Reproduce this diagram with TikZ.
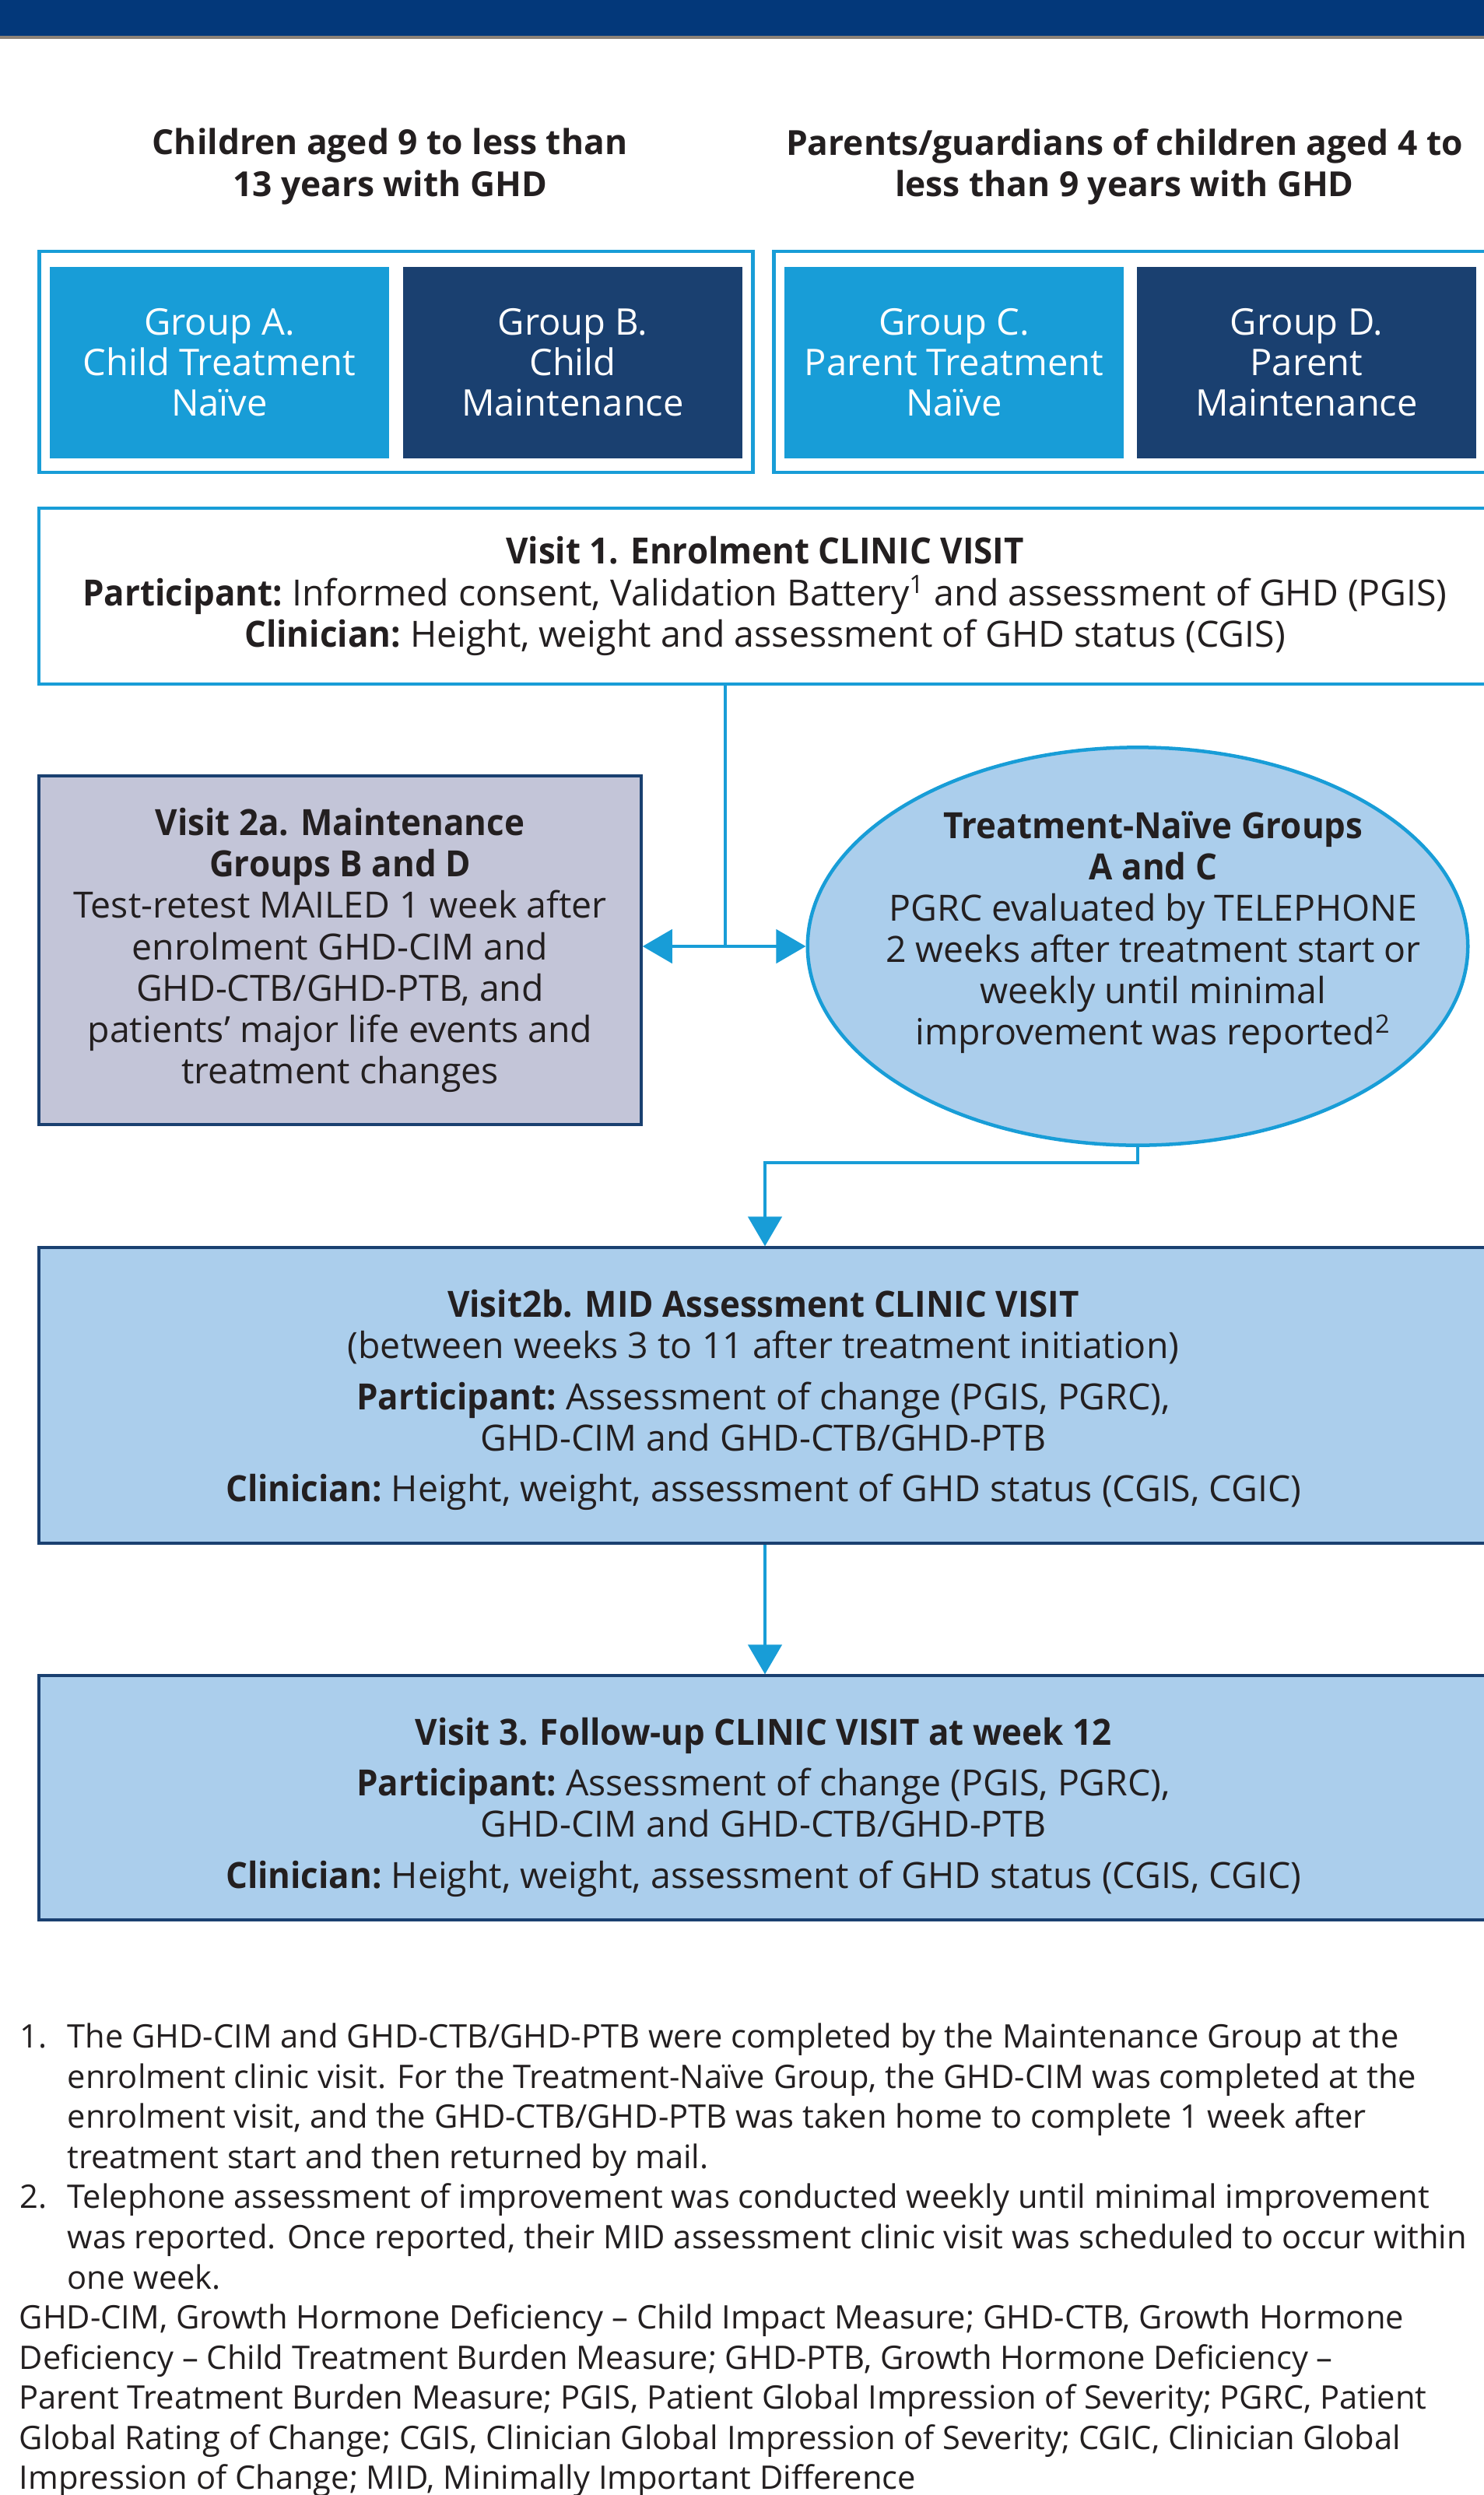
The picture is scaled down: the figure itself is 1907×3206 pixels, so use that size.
\documentclass[tikz,border=0pt]{standalone}
\usepackage{fontspec}
\setmainfont{Open Sans}
\usetikzlibrary{arrows.meta, shapes.geometric}

\definecolor{bandblue}{RGB}{3,56,122}
\definecolor{bandgrey}{RGB}{140,130,120}
\definecolor{groupblue}{RGB}{24,157,215}
\definecolor{navyblue}{RGB}{26,64,112}
\definecolor{lavender}{RGB}{195,197,216}
\definecolor{paleblue}{RGB}{171,206,236}
\definecolor{textgrey}{RGB}{35,31,32}

\newcommand{\groupfont}{\fontsize{13.4pt}{14.8pt}\selectfont}
\newcommand{\headfont}{\fontsize{12.6pt}{15.1pt}\selectfont\bfseries}
\newcommand{\visitfont}{\fontsize{13.2pt}{15.1pt}\selectfont}
\newcommand{\fnfont}{\fontsize{11.85pt}{14.7pt}\selectfont}
\newcommand{\bt}[1]{\scalebox{0.945}[1]{\bfseries #1}}

\begin{document}
\begin{tikzpicture}[x=0.01cm, y=-0.01cm,
    group/.style={rectangle, minimum width=4.35cm, minimum height=2.46cm, inner sep=0, text=white, align=center, font=\groupfont},
    naivegrp/.style={group, fill=groupblue},
    maintgrp/.style={group, fill=navyblue},
    outerbox/.style={draw=groupblue, line width=0.045cm, minimum width=9.16cm, minimum height=2.84cm, inner sep=0},
    visitbox/.style={rectangle, draw=navyblue, line width=0.04cm, minimum width=18.64cm, inner sep=0, align=center, text=textgrey, font=\visitfont},
    boxtext/.style={align=center, inner sep=0, text=textgrey, font=\visitfont},
    link/.style={groupblue, line width=0.045cm},
    arrow/.style={link, -{Triangle[length=0.38cm, width=0.43cm]}},
    fnote/.style={anchor=base west, inner sep=0, text=textgrey, font=\fnfont}]
\useasboundingbox (0,0) rectangle (1907,3206);
\clip (0,0) rectangle (1907,3206);

\fill[bandblue] (0,0) rectangle (1907,46);
\fill[bandgrey] (0,46) rectangle (1907,50);

\node[align=center, text=textgrey, font=\headfont] (headchild) at (501,214) {Children aged 9 to less than\\13 years with GHD};
\node[align=center, text=textgrey, font=\headfont] (headparent) at (1445,214) {Parents/guardians of children aged 4 to\\less than 9 years with GHD};

\node[outerbox] (childbox) at (509,465) {};
\node[outerbox] (parentbox) at (1453,465) {};
\node[naivegrp] (groupA) at (282,466) {Group A.\\Child Treatment\\Naïve};
\node[maintgrp] (groupB) at (736,466) {Group B.\\Child\\Maintenance};
\node[naivegrp] (groupC) at (1226,466) {Group C.\\Parent Treatment\\Naïve};
\node[maintgrp] (groupD) at (1679,466) {Group D.\\Parent\\Maintenance};

\node[visitbox, draw=groupblue, fill=white, minimum height=2.25cm] (visit1) at (983,766) {\bt{Visit 1. Enrolment CLINIC VISIT}\\
\bt{Participant:} Informed consent, Validation Battery\textsuperscript{1} and assessment of GHD (PGIS)\\
\bt{Clinician:} Height, weight and assessment of GHD status (CGIS)};

\node[visitbox, fill=lavender, minimum width=7.73cm, minimum height=4.47cm] (maint) at (437,1221) {\bt{Visit 2a. Maintenance}\\
\bt{Groups B and D}\\
Test-retest MAILED 1 week after\\
enrolment GHD-CIM and\\
GHD-CTB/GHD-PTB, and\\
patients’ major life events and\\
treatment changes};

\node[ellipse, draw=groupblue, fill=paleblue, line width=0.045cm, minimum width=8.48cm, minimum height=5.11cm, inner sep=0] (naive) at (1462,1216) {};
\node[boxtext] (naivetext) at (1482,1198) {\bt{Treatment-Naïve Groups}\\
\bt{A and C}\\
PGRC evaluated by TELEPHONE\\
2 weeks after treatment start or\\
weekly until minimal\\
improvement was reported\textsuperscript{2}};

\node[visitbox, fill=paleblue, minimum height=3.79cm] (visit2b) at (983,1793) {};
\node[boxtext] (visit2btext) at (981,1799) {\bt{Visit2b. MID Assessment CLINIC VISIT}\\
(between weeks 3 to 11 after treatment initiation)\\[3.5pt]
\bt{Participant:} Assessment of change (PGIS, PGRC),\\
GHD-CIM and GHD-CTB/GHD-PTB\\[3.5pt]
\bt{Clinician:} Height, weight, assessment of GHD status (CGIS, CGIC)};

\node[visitbox, fill=paleblue, minimum height=3.13cm] (visit3) at (983,2310) {};
\node[boxtext] (visit3text) at (981,2322) {\bt{Visit 3. Follow-up CLINIC VISIT at week 12}\\[3.5pt]
\bt{Participant:} Assessment of change (PGIS, PGRC),\\
GHD-CIM and GHD-CTB/GHD-PTB\\[3.5pt]
\bt{Clinician:} Height, weight, assessment of GHD status (CGIS, CGIC)};

\coordinate (split) at (932,1216);
\coordinate (bend) at (983,1494);
\draw[link] (visit1.south -| split) -- (split);
\draw[arrow] (split) -- (split -| maint.east);
\draw[arrow] (split) -- (naive.west);
\draw[arrow] (naive.south) |- (bend) -- (visit2b.north);
\draw[arrow] (visit2b.south) -- (visit3.north);

\node[fnote] (fn1num) at (25,2631) {1.};
\node[fnote] (fn1a) at (86,2631) {The GHD-CIM and GHD-CTB/GHD-PTB were completed by the Maintenance Group at the};
\node[fnote] (fn1b) at (86,2683) {enrolment clinic visit. For the Treatment-Naïve Group, the GHD-CIM was completed at the};
\node[fnote] (fn1c) at (86,2734) {enrolment visit, and the GHD-CTB/GHD-PTB was taken home to complete 1 week after};
\node[fnote] (fn1d) at (86,2786) {treatment start and then returned by mail.};
\node[fnote] (fn2num) at (25,2837) {2.};
\node[fnote] (fn2a) at (86,2837) {Telephone assessment of improvement was conducted weekly until minimal improvement};
\node[fnote] (fn2b) at (86,2889) {was reported. Once reported, their MID assessment clinic visit was scheduled to occur within};
\node[fnote] (fn2c) at (86,2941) {one week.};
\node[fnote] (abbra) at (24,2992) {GHD-CIM, Growth Hormone Deficiency – Child Impact Measure; GHD-CTB, Growth Hormone};
\node[fnote] (abbrb) at (24,3044) {Deficiency – Child Treatment Burden Measure; GHD-PTB, Growth Hormone Deficiency –};
\node[fnote] (abbrc) at (24,3095) {Parent Treatment Burden Measure; PGIS, Patient Global Impression of Severity; PGRC, Patient};
\node[fnote] (abbrd) at (24,3147) {Global Rating of Change; CGIS, Clinician Global Impression of Severity; CGIC, Clinician Global};
\node[fnote] (abbre) at (24,3198) {Impression of Change; MID, Minimally Important Difference};
\end{tikzpicture}
\end{document}
